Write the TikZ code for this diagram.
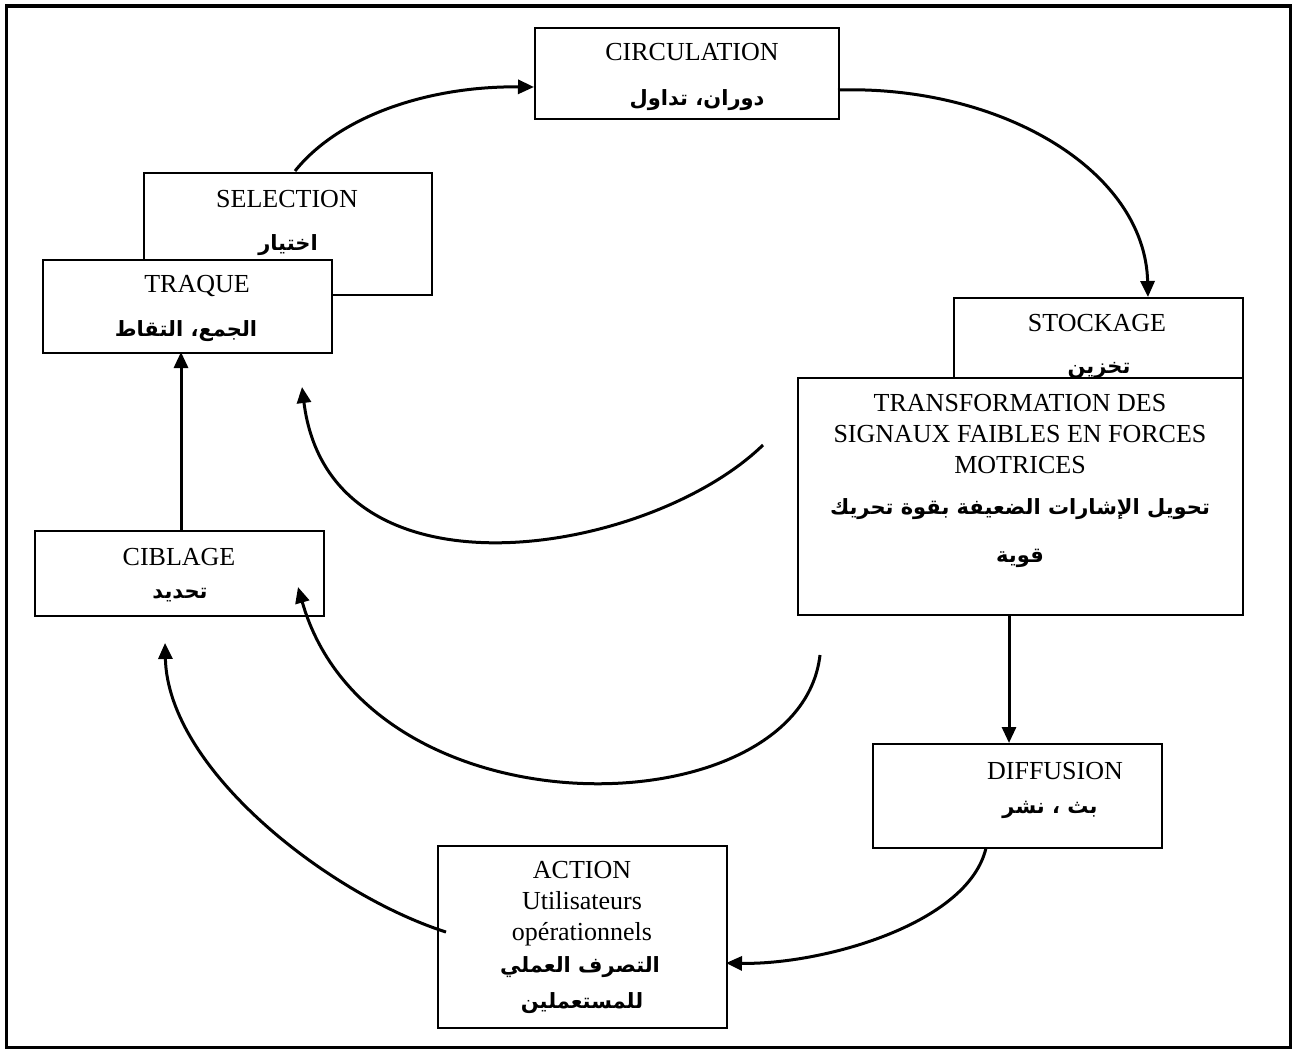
\documentclass[tikz,border=0pt]{standalone}
\usepackage{fontspec}
\setmainfont{Liberation Serif}
\newfontfamily\arabicfont[Script=Arabic]{DejaVu Sans}
\TeXXeTstate=1
\usetikzlibrary{arrows.meta}
\newcommand{\artext}[1]{{\arabicfont\bfseries\fontsize{21}{27}\selectfont\beginR #1\endR}}
\begin{document}
\begin{tikzpicture}[x=1pt,y=-1pt,
  box/.style={draw, line width=1.6pt, fill=white, inner sep=0pt, anchor=north west},
  lat/.style={inner sep=0pt, font=\fontsize{26}{31}\selectfont, align=center},
  arb/.style={inner sep=0pt, align=center},
  flow/.style={line width=3pt, -{Triangle[length=16pt,width=14pt]}}]
\useasboundingbox (0,0) rectangle (1297,1057);
% outer frame
\draw[line width=3.6pt] (6.5,6) rectangle (1290.5,1047.5);

% CIRCULATION
\node[box, minimum width=304pt, minimum height=91pt] (circ) at (534,27) {};
\node[lat] (circ-fr) at (692,52) {CIRCULATION};
\node[arb] (circ-ar) at (697,100) {\artext{دوران، تداول}};

% SELECTION (partly hidden by TRAQUE)
\node[box, minimum width=288pt, minimum height=122pt] (sel) at (143,172) {};
\node[lat] (sel-fr) at (287,199) {SELECTION};
\node[arb] (sel-ar) at (288,245) {\artext{اختيار}};

% TRAQUE
\node[box, minimum width=289pt, minimum height=93pt] (traq) at (42,259) {};
\node[lat] (traq-fr) at (197,286) {TRAQUE};
\node[arb] (traq-ar) at (186,331) {\artext{الجمع، التقاط}};

% STOCKAGE (partly hidden by TRANSFORMATION)
\node[box, minimum width=289pt, minimum height=120pt] (stock) at (953,297) {};
\node[lat] (stock-fr) at (1097,323) {STOCKAGE};
\node[arb] (stock-ar) at (1099,370) {\artext{تخزين}};

% TRANSFORMATION
\node[box, minimum width=445pt, minimum height=237pt] (trans) at (797,377) {};
\node[lat] (trans-fr) at (1020,434) {TRANSFORMATION DES\\SIGNAUX FAIBLES EN FORCES\\MOTRICES};
\node[arb] (trans-ar1) at (1020,509) {\artext{تحويل الإشارات الضعيفة بقوة تحريك}};
\node[arb] (trans-ar2) at (1020,558) {\artext{قوية}};

% CIBLAGE
\node[box, minimum width=289pt, minimum height=85pt] (cib) at (34,530) {};
\node[lat] (cib-fr) at (179,557) {CIBLAGE};
\node[arb] (cib-ar) at (180,595) {\artext{تحديد}};

% DIFFUSION
\node[box, minimum width=289pt, minimum height=104pt] (diff) at (872,743) {};
\node[lat] (diff-fr) at (1055,771) {DIFFUSION};
\node[arb] (diff-ar) at (1050,810) {\artext{بث ، نشر}};

% ACTION
\node[box, minimum width=289pt, minimum height=182pt] (act) at (437,845) {};
\node[lat] (act-fr) at (582,904) {ACTION\\Utilisateurs\\opérationnels};
\node[arb] (act-ar1) at (580,967) {\artext{التصرف العملي}};
\node[arb] (act-ar2) at (582,1003) {\artext{للمستعملين}};

% free ends of the curved arrows
\coordinate (selTop) at (295,171);
\coordinate (circIn) at (534,87);
\coordinate (circOut) at (838,90);
\coordinate (stockIn) at (1148,297);
\coordinate (transOut) at (1009,614);
\coordinate (diffIn) at (1009,743);
\coordinate (diffOut) at (986,848);
\coordinate (actIn) at (726,963);
\coordinate (actOut) at (446,932);
\coordinate (cibIn) at (165,643);
\coordinate (cibOut) at (181,530);
\coordinate (traqIn) at (181,352);
\coordinate (fbA) at (763,445);
\coordinate (fbAEnd) at (302,387);
\coordinate (fbB) at (820,655);
\coordinate (fbBEnd) at (298,587);

% connectors
\draw[flow] (selTop) .. controls (340,115) and (430,86) .. (circIn);
\draw[flow] (circOut) .. controls (1000,85) and (1145,170) .. (stockIn);
\draw[flow] (transOut) -- (diffIn);
\draw[flow] (diffOut) .. controls (968,925) and (820,965) .. (actIn);
\draw[flow] (actOut) .. controls (330,895) and (168,770) .. (cibIn);
\draw[flow] (cibOut) -- (traqIn);
\draw[flow] (fbA) .. controls (650,555) and (330,610) .. (fbAEnd);
\draw[flow] (fbB) .. controls (800,830) and (370,840) .. (fbBEnd);
\end{tikzpicture}
\end{document}
